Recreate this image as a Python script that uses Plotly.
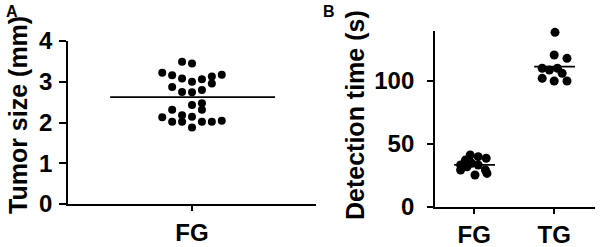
import numpy as np
import plotly.graph_objects as go

# Panel A: tumor size (mm), FG group, beeswarm column index and value
a_cols = [-1, 0, -3, -2, -1, 0, 1, 2, 3, -2, -1, 0, 1, 2,
          0, 1, 1, -2, -1, 0, -3, -2, -1, 0, 1, 2, 3]
a_vals = [3.49, 3.45, 3.22, 3.16, 3.08, 3.00, 3.06, 3.13, 3.17, 2.87, 2.75, 2.74, 2.80, 2.96,
          2.43, 2.47, 2.31, 2.31, 2.18, 2.14, 2.13, 2.02, 2.02, 1.88, 2.02, 2.02, 2.04]
a_yticks = [0, 1, 2, 3, 4]

# Panel B: detection time (s)
b_categories = ["FG", "TG"]
fg_vals = [41.1, 39.8, 38.5, 37.1, 33.2, 34.5, 33.2, 31.8, 29.2, 29.2, 25.2, 26.5]
fg_jit = [-0.05, 0.05, 0.15, -0.11, -0.17, -0.03, 0.05, -0.09, -0.17, 0.14, 0.01, 0.16]
tg_vals = [138.7, 120.7, 118.0, 110.1, 108.7, 110.1, 106.1, 102.1, 100.0, 100.0]
tg_jit = [0.01, 0.0, 0.16, -0.15, -0.06, 0.04, 0.10, -0.15, 0.0, 0.16]
b_yticks = [0, 50, 100]

FONT = "Liberation Sans, Arial, sans-serif"
col_w = 0.08  # beeswarm column spacing (axis units)

fig = go.Figure()

# Panel A
fig.add_trace(go.Scatter(x=[c * col_w for c in a_cols], y=a_vals, mode="markers",
                         marker=dict(color="black", size=8), xaxis="x", yaxis="y",
                         showlegend=False, cliponaxis=False))
ma = float(np.mean(a_vals))
fig.add_trace(go.Scatter(x=[-0.66, 0.67], y=[ma, ma], mode="lines",
                         line=dict(color="black", width=1.8), xaxis="x", yaxis="y",
                         showlegend=False))

# Panel B
fig.add_trace(go.Scatter(x=[0 + j for j in fg_jit], y=fg_vals, mode="markers",
                         marker=dict(color="black", size=9), xaxis="x2", yaxis="y2",
                         showlegend=False, cliponaxis=False))
fig.add_trace(go.Scatter(x=[1 + j for j in tg_jit], y=tg_vals, mode="markers",
                         marker=dict(color="black", size=9), xaxis="x2", yaxis="y2",
                         showlegend=False, cliponaxis=False))
for i, vals in enumerate([fg_vals, tg_vals]):
    m = float(np.mean(vals))
    fig.add_trace(go.Scatter(x=[i - 0.25, i + 0.26], y=[m, m], mode="lines",
                             line=dict(color="black", width=1.8), xaxis="x2", yaxis="y2",
                             showlegend=False))

tickfont = dict(family=FONT, size=24, color="black", weight="bold")
axis_common = dict(showline=True, linecolor="black", linewidth=1.8, ticks="outside",
                   tickwidth=1.5, tickcolor="black", showgrid=False,
                   zeroline=False, automargin=False, tickfont=tickfont)

title_font = dict(family=FONT, size=25, color="black")

fig.update_layout(
    width=600, height=247,
    margin=dict(l=0, r=0, t=0, b=0, autoexpand=False),
    paper_bgcolor="white", plot_bgcolor="white",
    xaxis=dict(domain=[68 / 600, 316 / 600], range=[-1, 1], tickvals=[0], ticktext=["FG"],
               anchor="y", ticklen=5, ticklabelstandoff=1, **axis_common),
    yaxis=dict(domain=[43 / 247, 206 / 247], range=[0, 4], tickvals=a_yticks,
               anchor="x", ticklen=7, ticklabelstandoff=2, **axis_common),
    xaxis2=dict(domain=[435 / 600, 595 / 600], range=[-0.49, 1.51], tickvals=[0, 1],
                ticktext=b_categories, anchor="y2", ticklen=5, ticklabelstandoff=1,
                **axis_common),
    yaxis2=dict(domain=[40.3 / 247, 216.3 / 247], range=[0, 140], tickvals=b_yticks,
                anchor="x2", ticklen=6, ticklabelstandoff=8, **axis_common),
    annotations=[
        dict(text="<b>Tumor size (mm)</b>", x=18 / 600, y=1 - 115 / 247, xref="paper",
             yref="paper", xanchor="center", yanchor="middle", textangle=-90,
             showarrow=False, font=title_font),
        dict(text="<b>Detection time (s)</b>", x=355 / 600, y=1 - 115 / 247, xref="paper",
             yref="paper", xanchor="center", yanchor="middle", textangle=-90,
             showarrow=False, font=title_font),
        dict(text="<b>A</b>", x=4 / 600, y=1 - 1 / 247, xref="paper", yref="paper",
             xanchor="left", yanchor="top", showarrow=False,
             font=dict(family=FONT, size=16, color="black")),
        dict(text="<b>B</b>", x=321 / 600, y=1 - 1 / 247, xref="paper", yref="paper",
             xanchor="left", yanchor="top", showarrow=False,
             font=dict(family=FONT, size=16, color="black")),
    ],
)

fig.write_html("out.html", config={"displayModeBar": False},
               post_script="document.body.style.margin='0';document.body.style.overflow='hidden';")
